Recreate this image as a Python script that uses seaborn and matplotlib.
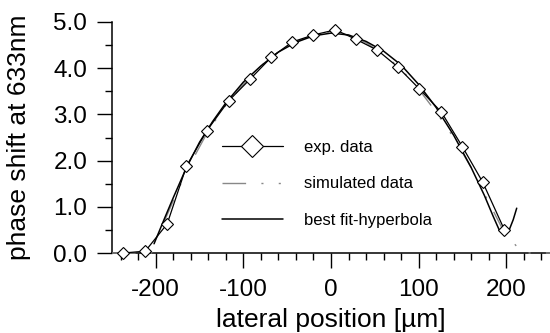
import numpy as np
import pandas as pd
import seaborn as sns
import matplotlib.pyplot as plt
from matplotlib.ticker import MultipleLocator

# exp. data (diamonds)
exp_x = [-237, -212, -187, -165, -142, -117, -92, -68, -44, -20, 5, 28, 53, 76, 101, 126, 150, 173, 198]
exp_y = [0.0, 0.04, 0.63, 1.88, 2.64, 3.29, 3.77, 4.24, 4.57, 4.72, 4.83, 4.63, 4.39, 4.03, 3.55, 3.05, 2.30, 1.54, 0.50]

# simulated data
sim_x = [-250, -205, -202, -190, -175, -160, -140, -120, -100, -80, -60, -40, -20, 0,
         20, 40, 60, 80, 100, 120, 140, 160, 180, 195, 205, 216, 220, 250]
sim_y = [0.0, 0.0, 0.2, 0.7, 1.35, 1.95, 2.65, 3.2, 3.65, 4.05, 4.35, 4.57, 4.72, 4.77,
         4.72, 4.55, 4.3, 3.98, 3.55, 3.05, 2.5, 1.85, 1.1, 0.55, 0.3, 0.05, 0.0, 0.0]

# best fit-hyperbola
fit_x = [-202, -190, -180, -165, -150, -135, -120, -100, -80, -60, -40, -20, 0,
         20, 40, 60, 80, 100, 120, 140, 160, 175, 185, 192, 198, 203, 208, 212]
fit_y = [0.2, 0.75, 1.2, 1.85, 2.4, 2.85, 3.25, 3.7, 4.05, 4.35, 4.56, 4.70, 4.76,
         4.72, 4.58, 4.37, 4.07, 3.65, 3.15, 2.55, 1.85, 1.25, 0.8, 0.5, 0.4, 0.48, 0.72, 0.97]

sns.set_style("ticks", {"axes.edgecolor": "black", "text.color": "black",
                        "xtick.color": "black", "ytick.color": "black",
                        "axes.labelcolor": "black"})
plt.rcParams['font.family'] = ['Liberation Sans', 'DejaVu Sans']

fig = plt.figure(figsize=(5.5, 3.33), dpi=100)
ax = fig.add_axes([112 / 550, 80 / 333, 1 - 112 / 550, (253 - 22) / 333])

sns.lineplot(x=sim_x, y=sim_y, ax=ax, color='#888888', lw=1.0, sort=False,
             label='simulated data', clip_on=False, zorder=3)
ax.lines[-1].set_dashes((17, 11, 1.5, 11, 1.5, 11))
sns.lineplot(x=fit_x, y=fit_y, ax=ax, color='black', lw=1.1, sort=False,
             label='best fit-hyperbola', clip_on=False, zorder=3)
sns.lineplot(x=exp_x, y=exp_y, ax=ax, color='black', lw=0.9, sort=False,
             marker='D', markersize=6.2, markerfacecolor='white',
             markeredgecolor='black', markeredgewidth=0.8,
             label='exp. data', clip_on=False, zorder=4)

ax.set_xlim(-250, 250)
ax.set_ylim(0, 5)
ax.xaxis.set_major_locator(MultipleLocator(100))
ax.xaxis.set_minor_locator(MultipleLocator(20))
ax.yaxis.set_major_locator(MultipleLocator(1))
ax.yaxis.set_minor_locator(MultipleLocator(0.5))
ax.xaxis.set_major_formatter(lambda v, p: f"{v:.0f}")
ax.yaxis.set_major_formatter(lambda v, p: f"{v:.1f}")

for s in ['top', 'right']:
    ax.spines[s].set_visible(False)
for s in ['left', 'bottom']:
    ax.spines[s].set_linewidth(1.1)
ax.tick_params(which='major', length=10.8, width=1.0, labelsize=17.5, pad=7)
ax.tick_params(which='minor', length=5, width=1.0)
ax.tick_params(axis='x', which='major', pad=8)

ax.set_xlabel('lateral position [µm]', fontsize=19, labelpad=5)
ax.set_ylabel('phase shift at 633nm', fontsize=19, labelpad=16)

h, l = ax.get_legend_handles_labels()
order = [l.index('exp. data'), l.index('simulated data'), l.index('best fit-hyperbola')]
ax.legend([h[i] for i in order], [l[i] for i in order], frameon=False,
          loc='center left', bbox_to_anchor=(222 / 550, (333 - 184) / 333),
          bbox_transform=fig.transFigure, borderpad=0, borderaxespad=0,
          handlelength=3.65, handletextpad=1.25, labelspacing=1.3,
          markerscale=1.8, prop={'size': 12})

fig.savefig('out.png', dpi=100)
